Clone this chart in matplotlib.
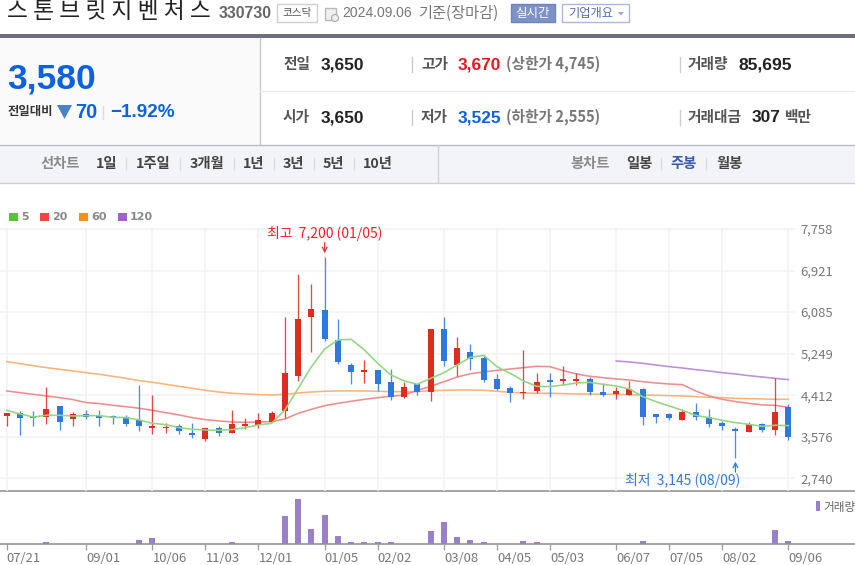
import matplotlib
matplotlib.use("Agg")
import matplotlib.pyplot as plt
from matplotlib.patches import Rectangle, Polygon, Circle

plt.rcParams['font.family'] = ['Noto Sans CJK KR', 'DejaVu Sans']

W, H = 855, 565

# weekly candles, left to right
opens = [3988, 4061, 3988, 3968, 4189, 3941, 4041, 3994, 3988, 3981,
         3907, 3746, 3746, 3793, 3659, 3538, 3760, 3659, 3786, 3807,
         3867, 4095, 4799, 5980, 6121, 5517, 5021, 4880, 4913, 4685,
         4377, 4632, 4477, 5745, 5027, 5289, 5168, 4739, 4565, 4451,
         4498, 4712, 4699, 4699, 4739, 4484, 4444, 4424, 4538, 4035,
         4041, 3914, 4082, 3981, 3860, 3713, 3666, 3827, 3719, 4182]
highs = [4061, 4088, 4088, 4585, 4189, 4068, 4108, 4108, 4015, 4008,
         4612, 4417, 3860, 3840, 3860, 3760, 3793, 4108, 3961, 4061,
         4088, 5993, 6845, 6644, 7200, 5946, 5068, 5121, 4913, 4940,
         4672, 4632, 5745, 5993, 5591, 5443, 5222, 4840, 4598, 5316,
         4866, 4866, 5007, 4853, 4786, 4665, 4585, 4699, 4565, 4035,
         4061, 4129, 4263, 4135, 3887, 3766, 3867, 3847, 4752, 4229]
lows = [3793, 3612, 3793, 3840, 3713, 3786, 3941, 3786, 3840, 3793,
        3686, 3639, 3652, 3632, 3558, 3485, 3585, 3659, 3739, 3760,
        3867, 3961, 4699, 5289, 5504, 5048, 4645, 4665, 4498, 4323,
        4350, 4417, 4296, 4994, 4799, 4920, 4672, 4518, 4269, 4343,
        4451, 4377, 4618, 4618, 4417, 4390, 4343, 4424, 3820, 3860,
        3921, 3914, 3914, 3780, 3719, 3145, 3666, 3666, 3612, 3511]
closes = [4061, 3947, 3947, 4135, 3867, 4035, 3968, 3947, 3961, 3840,
          3793, 3786, 3766, 3686, 3612, 3760, 3659, 3833, 3840, 3914,
          4061, 4866, 5946, 6148, 5551, 5088, 4873, 4913, 4645, 4377,
          4585, 4477, 5745, 5101, 5370, 5148, 4719, 4538, 4451, 4484,
          4685, 4685, 4739, 4739, 4471, 4410, 4491, 4538, 3968, 3968,
          3961, 4082, 3968, 3840, 3786, 3693, 3833, 3719, 4082, 3565]

ma5 = [4108, 4035, 3974, 4008, 4008, 3994, 4001, 4001, 3968, 3961,
       3914, 3847, 3820, 3760, 3726, 3713, 3706, 3719, 3760, 3813,
       3847, 4115, 4551, 4987, 5343, 5524, 5537, 5323, 5054, 4820,
       4699, 4632, 4752, 4866, 5021, 5175, 5215, 4987, 4853, 4699,
       4591, 4585, 4618, 4658, 4672, 4632, 4598, 4538, 4383, 4283,
       4196, 4108, 4008, 3961, 3907, 3860, 3827, 3786, 3807, 3800]
ma20 = [4497, 4464, 4430, 4397, 4363, 4323, 4263, 4243, 4209, 4182,
        4149, 4108, 4061, 4015, 3961, 3921, 3894, 3874, 3867, 3874,
        3880, 3934, 4048, 4129, 4202, 4249, 4290, 4330, 4363, 4390,
        4417, 4511, 4591, 4685, 4779, 4846, 4880, 4913, 4940, 4967,
        4994, 4987, 4907, 4840, 4793, 4766, 4739, 4719, 4685, 4658,
        4638, 4625, 4497, 4397, 4330, 4283, 4249, 4216, 4209, 4169]
ma60 = [5088, 5048, 5007, 4967, 4934, 4900, 4866, 4833, 4793, 4752,
        4705, 4672, 4632, 4591, 4551, 4511, 4477, 4451, 4437, 4424,
        4417, 4430, 4457, 4477, 4491, 4498, 4498, 4498, 4491, 4484,
        4484, 4484, 4504, 4511, 4518, 4518, 4511, 4491, 4471, 4457,
        4451, 4451, 4444, 4437, 4437, 4430, 4430, 4424, 4417, 4410,
        4404, 4397, 4383, 4370, 4363, 4350, 4343, 4337, 4330, 4330]
ma120 = [5101, 5081, 5054, 5021, 4987, 4960, 4927, 4900, 4866, 4840,
         4806, 4779, 4752, 4726]
ma120_start = 46

volumes = [0, 0, 0, 51000, 0, 0, 0, 0, 0, 0,
           111000, 154000, 0, 0, 0, 0, 0, 51000, 0, 0,
           0, 728000, 1174000, 403000, 754000, 206000, 51000, 51000, 51000, 51000,
           0, 0, 343000, 565000, 180000, 111000, 51000, 0, 0, 85000,
           51000, 0, 0, 0, 0, 0, 0, 0, 85000, 0,
           0, 0, 0, 0, 0, 0, 0, 0, 368000, 85000]

date_ticks = [0, 6, 11, 15, 19, 24, 28, 33, 37, 41, 46, 50, 54, 59]
date_labels = ['07/21', '09/01', '10/06', '11/03', '12/01', '01/05', '02/02',
               '03/08', '04/05', '05/03', '06/07', '07/05', '08/02', '09/06']
price_ticks = [7758, 6921, 6085, 5249, 4412, 3576, 2740]

legend_names = ['5', '20', '60', '120']
legend_colors = ['#5cc23c', '#ee4444', '#fb8c1e', '#a35fd0']

UP = '#e02b20'
DOWN = '#2f78e0'
GRID = '#f2f2f2'
STEP = 13.25
FIRST = 6.7


def px_axes(fig, left, top, right, bottom):
    ax = fig.add_axes([left / W, 1 - bottom / H, (right - left) / W, (bottom - top) / H])
    ax.patch.set_alpha(0)
    return ax


def put(ax, x, y, s, size=9, color='#333333', weight='normal', ha='left', family=None):
    ax.text(x, y, s, fontsize=size, color=color, fontweight=weight, ha=ha, va='center',
            family=family or ['Noto Sans CJK KR', 'DejaVu Sans'])


def draw_header(ax):
    ax.set_xlim(0, W)
    ax.set_ylim(H, 0)
    ax.axis('off')

    # panels
    ax.add_patch(Rectangle((0, 38), 260, 106, fc='#fafafa', ec='none'))
    ax.add_patch(Rectangle((0, 145), W, 38, fc='#f3f4f7', ec='none'))
    ax.add_patch(Rectangle((0, 34), W, 3.5, fc='#6b6f7f', ec='none'))
    ax.plot([260, 260], [38, 144], color='#c8c8c8', lw=1)
    ax.plot([260, W], [90.5, 90.5], color='#ececec', lw=1)
    ax.plot([0, W], [144.5, 144.5], color='#bcbcc0', lw=1)
    ax.plot([0, W], [183, 183], color='#d0d0d4', lw=1)
    ax.plot([438, 438], [145, 183], color='#d4d4d8', lw=1)

    # title row
    ax.text(7, 11, '스 톤 브 릿 지 벤 처 스', fontsize=16.4, color='#222222', va='center', ha='left')
    put(ax, 219, 14, '330730', 11.4, '#666666', 'bold', family='Liberation Sans')
    ax.add_patch(Rectangle((277, 4), 40, 18, fc='white', ec='#cfcfcf', lw=1))
    put(ax, 297, 13, '코스닥', 7.6, '#555555', ha='center')
    ax.add_patch(Rectangle((325, 8), 11, 12, fc='#f0f0f0', ec='#b8b8b8', lw=1))
    ax.add_patch(Circle((335, 18), 3.5, fc='#eeeeee', ec='#aaaaaa', lw=0.8))
    put(ax, 342, 13, '2024.09.06', 10, '#777777', family='Liberation Sans')
    put(ax, 418, 13, '기준(장마감)', 11, '#777777')
    ax.add_patch(Rectangle((511, 4), 44, 18, fc='#7f92c6', ec='#6f84bd', lw=1))
    put(ax, 533, 13, '실시간', 9, 'white', ha='center')
    ax.add_patch(Rectangle((562, 4), 67, 18, fc='white', ec='#a9b8de', lw=1))
    put(ax, 568, 13, '기업개요', 8.8, '#5a6cab')
    ax.add_patch(Polygon([[618, 12], [624, 12], [621, 15.5]], fc='#a0a8bc', ec='none'))

    # current price box
    put(ax, 7, 79, '3,580', 25.5, '#0b62e0', 'bold', family='Liberation Sans')
    put(ax, 8, 112, '전일대비', 8.9, '#333333', 'bold')
    ax.add_patch(Polygon([[57, 105], [72, 105], [64.5, 119]], fc='#4a82c8', ec='none'))
    put(ax, 75, 112.5, '70', 14.4, '#0b62e0', 'bold', family='Liberation Sans')
    ax.plot([103, 103], [106, 119], color='#dddddd', lw=1)
    put(ax, 110, 112.5, '−1.92%', 13.6, '#0b62e0', 'bold', family='Liberation Sans')

    # quote table
    for x in (412, 680):
        ax.plot([x, x], [57, 72], color='#cccccc', lw=1)
        ax.plot([x, x], [110, 125], color='#cccccc', lw=1)
    put(ax, 283, 64, '전일', 10.6, '#555555', 'bold')
    put(ax, 283, 117, '시가', 10.6, '#555555', 'bold')
    put(ax, 321, 65, '3,650', 12.4, '#222222', 'bold', family='Liberation Sans')
    put(ax, 321, 118, '3,650', 12.4, '#222222', 'bold', family='Liberation Sans')
    put(ax, 421, 64, '고가', 10.6, '#555555', 'bold')
    put(ax, 421, 117, '저가', 10.6, '#555555', 'bold')
    put(ax, 458, 65, '3,670', 12.4, '#f0141e', 'bold', family='Liberation Sans')
    put(ax, 458, 118, '3,525', 12.4, '#0b62e0', 'bold', family='Liberation Sans')
    put(ax, 506, 64, '(상한가 4,745)', 10.6, '#777777', 'bold')
    put(ax, 506, 117, '(하한가 2,555)', 10.6, '#777777', 'bold')
    put(ax, 688, 64, '거래량', 10.6, '#555555', 'bold')
    put(ax, 738, 65, '85,695', 12.6, '#222222', 'bold', family='Liberation Sans')
    put(ax, 688, 117, '거래대금', 10.6, '#555555', 'bold')
    put(ax, 752, 118, '307', 12.4, '#222222', 'bold', family='Liberation Sans')
    put(ax, 785, 117, '백만', 10.6, '#555555', 'bold')

    # period tabs
    put(ax, 41, 164, '선차트', 10.3, '#8a8a8a', 'bold')
    tabs = [('1일', 96), ('1주일', 136), ('3개월', 190), ('1년', 243), ('3년', 283), ('5년', 323), ('10년', 363)]
    for name, x in tabs:
        put(ax, x, 164, name, 10.3, '#444444', 'bold')
    for x in (126, 180, 234, 274, 314, 354):
        ax.plot([x, x], [158, 170], color='#dcdcdc', lw=1)
    put(ax, 570, 164, '봉차트', 10.3, '#8a8a8a', 'bold')
    put(ax, 626, 164, '일봉', 10.3, '#444444', 'bold')
    put(ax, 670, 164, '주봉', 10.3, '#3a5aa8', 'bold')
    put(ax, 716, 164, '월봉', 10.3, '#444444', 'bold')
    for x in (661, 706):
        ax.plot([x, x], [158, 170], color='#dcdcdc', lw=1)

    # moving average legend
    for name, color, x in zip(legend_names, legend_colors, (9, 40, 79, 118)):
        ax.add_patch(Rectangle((x, 213), 8.5, 8, fc=color, ec='none'))
        put(ax, x + 12, 217, name, 8, '#888888', 'bold', family='DejaVu Sans')

    # pane borders
    ax.plot([0, W], [491, 491], color='#8b8b90', lw=1.1)
    ax.plot([0, W], [544.3, 544.3], color='#8b8b90', lw=1.1)

    # volume legend
    ax.add_patch(Rectangle((816, 501), 4, 10, fc='#9a80c6', ec='none'))
    put(ax, 823, 507, '거래량', 8.4, '#666666')


def draw_candles(ax):
    xs = list(range(len(closes)))
    colors = [UP if c >= o else DOWN for o, c in zip(opens, closes)]
    ax.vlines(xs, lows, highs, colors=colors, lw=0.95, alpha=0.85, zorder=3)
    bottoms = [min(o, c) for o, c in zip(opens, closes)]
    heights = [max(abs(c - o), 30) for o, c in zip(opens, closes)]
    ax.bar(xs, heights, bottom=bottoms, width=6 / STEP, color=colors, zorder=4)


def draw_price(ax):
    ax.set_xlim(-FIRST / STEP, (795 - FIRST) / STEP)
    ax.set_ylim(2484, 7778)
    for side in ax.spines.values():
        side.set_visible(False)
    ax.set_xticks(date_ticks)
    ax.set_xticklabels([])
    ax.set_yticks(price_ticks)
    ax.set_yticklabels([f'{p:,}' for p in price_ticks])
    ax.yaxis.tick_right()
    ax.tick_params(axis='both', length=0)
    ax.tick_params(axis='y', labelsize=9.4, labelcolor='#777777', pad=4)
    ax.grid(True, color=GRID, lw=1.1)
    ax.set_axisbelow(True)

    xs = list(range(len(closes)))
    ax.plot(xs, ma60, color='#f9b47a', lw=1.15, zorder=2)
    ax.plot(xs, ma20, color='#f28d8d', lw=1.15, zorder=2)
    ax.plot(xs, ma5, color='#93d681', lw=1.15, zorder=5)
    ax.plot(range(ma120_start, ma120_start + len(ma120)), ma120, color='#bc8fdc', lw=1.15, zorder=2)

    draw_candles(ax)

    # high and low callouts
    top = highs.index(max(highs))
    low = lows.index(min(lows))
    ax.annotate('', xy=(top, max(highs)), xytext=(0, 10), textcoords='offset points',
                arrowprops=dict(arrowstyle='->', color='#e8303a', lw=0.9, shrinkA=0, shrinkB=2.5,
                                mutation_scale=8.5))
    ax.annotate(f'최고  {max(highs):,} (01/05)', xy=(top, max(highs)), xytext=(0, 17),
                textcoords='offset points', ha='center', va='center', color='#f0202c', fontsize=10)
    ax.annotate('', xy=(low, min(lows)), xytext=(0, -10), textcoords='offset points',
                arrowprops=dict(arrowstyle='->', color='#2f78e0', lw=0.9, shrinkA=0, shrinkB=2.5,
                                mutation_scale=8.5))
    ax.annotate(f'최저  {min(lows):,} (08/09)', xy=(low, min(lows)), xytext=(3.5, -16.3),
                textcoords='offset points', ha='right', va='center', color='#2f78e0', fontsize=10)


def draw_volume(ax):
    ax.set_xlim(-FIRST / STEP, (795 - FIRST) / STEP)
    ax.set_ylim(0, 1370000)
    for side in ax.spines.values():
        side.set_visible(False)
    ax.bar(range(len(volumes)), volumes, width=6 / STEP, color='#9a80c6')
    ax.set_yticks([])
    ax.set_xticks(date_ticks)
    ax.set_xticklabels(date_labels, ha='left')
    ax.tick_params(axis='x', length=4.3, width=0.9, color='#9a9a9a', labelsize=9.4,
                   labelcolor='#777777', pad=1.5)


if __name__ == "__main__":
    fig = plt.figure(figsize=(W / 100, H / 100), dpi=100, facecolor='white')
    draw_header(px_axes(fig, 0, 0, W, H))
    draw_price(px_axes(fig, 0, 228, 795, 491))
    draw_volume(px_axes(fig, 0, 491, 795, 544.3))
    fig.savefig('out.png', dpi=100)
